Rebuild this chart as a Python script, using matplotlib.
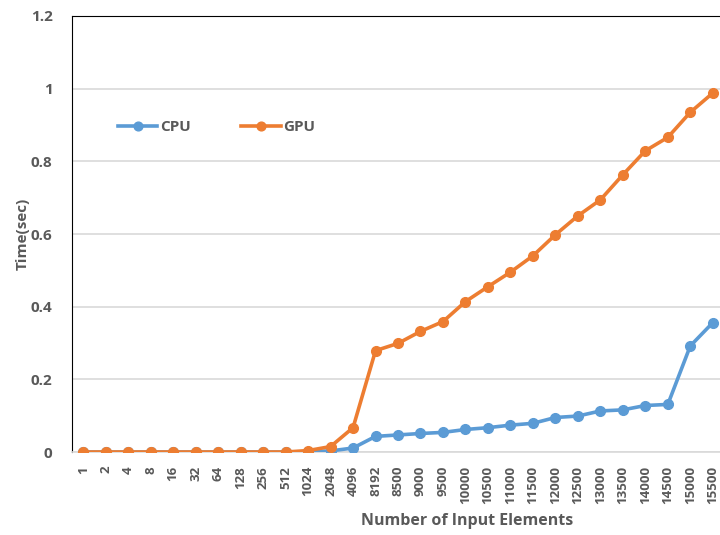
import numpy as np
import matplotlib
matplotlib.use("Agg")
import matplotlib.pyplot as plt

# categories on the x axis
sizes = ["1", "2", "4", "8", "16", "32", "64", "128", "256", "512", "1024", "2048", "4096", "8192",
         "8500", "9000", "9500", "10000", "10500", "11000", "11500", "12000", "12500", "13000",
         "13500", "14000", "14500", "15000", "15500"]

# timings (sec)
cpu_time = [0, 0, 0, 0, 0, 0, 0, 0, 0, 0, 0.001, 0.003, 0.011, 0.043, 0.047, 0.051, 0.054,
            0.062, 0.067, 0.074, 0.079, 0.095, 0.099, 0.113, 0.116, 0.128, 0.131, 0.292, 0.356]
gpu_time = [0, 0, 0, 0, 0, 0, 0, 0, 0, 0, 0.004, 0.015, 0.067, 0.279, 0.299, 0.332, 0.359,
            0.414, 0.455, 0.495, 0.540, 0.598, 0.650, 0.694, 0.763, 0.829, 0.866, 0.935, 0.988]

plt.rcParams['font.family'] = ['Open Sans', 'DejaVu Sans']
text_col = "#595959"
grid_col = "#d9d9d9"

fig = plt.figure(figsize=(7.2, 5.35), dpi=100)
# plot area runs past the right edge like the cropped original
ax = fig.add_axes([0.1, 0.1551, 0.9056, 0.815])

x = np.arange(len(sizes))
ax.plot(x, cpu_time, color="#5B9BD5", lw=2.6, marker="o", ms=7, label="CPU", zorder=3)
ax.plot(x, gpu_time, color="#ED7D31", lw=2.6, marker="o", ms=7, label="GPU", zorder=3)

ax.set_xlim(-0.5, len(sizes) - 0.5)
ax.set_ylim(0, 1.2)
ax.set_yticks([0, 0.2, 0.4, 0.6, 0.8, 1.0, 1.2])
ax.set_yticklabels(["0", "0.2", "0.4", "0.6", "0.8", "1", "1.2"])
ax.set_xticks(x)
ax.set_xticklabels(sizes, rotation=90)

for lbl in ax.get_yticklabels():
    lbl.set_fontsize(11)
    lbl.set_fontweight("bold")
    lbl.set_color(text_col)
for lbl in ax.get_xticklabels():
    lbl.set_fontsize(9.5)
    lbl.set_fontweight("bold")
    lbl.set_color(text_col)

ax.tick_params(axis="both", length=0)
ax.tick_params(axis="y", pad=14)
ax.tick_params(axis="x", pad=10)

ax.yaxis.grid(True, color=grid_col, lw=1.2)
ax.set_axisbelow(True)
ax.spines["right"].set_visible(False)
ax.spines["bottom"].set_color(grid_col)
ax.spines["bottom"].set_linewidth(1.2)
ax.spines["left"].set_color("black")
ax.spines["top"].set_color("black")

ax.set_ylabel("Time(sec)", fontsize=11, fontweight="bold", color=text_col)
ax.yaxis.set_label_coords(-0.065, 0.5)
fig.text(467 / 720, 1 - 521 / 535, "Number of Input Elements", ha="center", va="center",
         fontsize=11.5, fontweight="bold", color=text_col)

ax.legend(loc="center left", bbox_to_anchor=(104 / 720, 1 - 127 / 535),
          bbox_transform=fig.transFigure, ncol=2, frameon=False,
          handlelength=2.6, columnspacing=3.3, handletextpad=0.15, markerscale=0.9,
          prop={"weight": "bold", "size": 11}, labelcolor=text_col)

fig.savefig("out.png", dpi=100)
